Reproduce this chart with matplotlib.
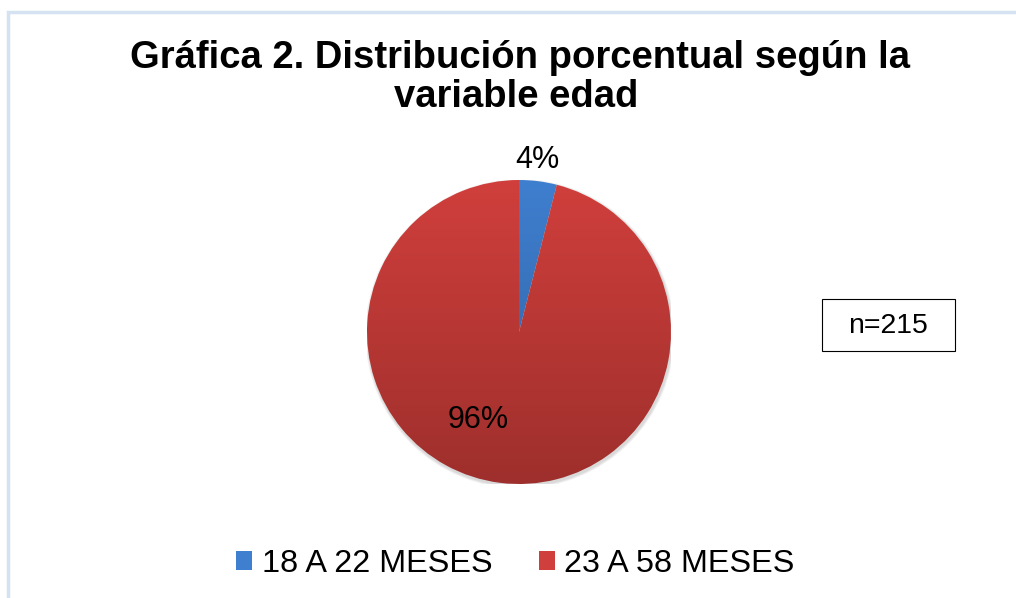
import matplotlib
matplotlib.use("Agg")
import matplotlib.pyplot as plt
import numpy as np
from matplotlib.patches import Rectangle
from matplotlib.colors import LinearSegmentedColormap

categories = ["18 A 22 MESES", "23 A 58 MESES"]
values = [4, 96]
title_lines = ["Gráfica 2. Distribución porcentual según la", "variable edad"]
note = "n=215"

top_colors = ["#3F7FCF", "#D03F3C"]
bot_colors = ["#2E5E9E", "#9E2F2C"]

plt.rcParams['font.family'] = ['Liberation Sans', 'DejaVu Sans']

fig = plt.figure(figsize=(10.16, 5.98), dpi=100)
W, H = 1016, 598

# outer chart border (cropped at right/bottom)
fig.patches.append(Rectangle((8 / W, -0.05), 1.1, (598 - 11.5) / H + 0.05,
                             transform=fig.transFigure, fill=False,
                             edgecolor="#D5E2F2", linewidth=2.5))

cx, cy, r = 519, 598 - 332, 152
ax = fig.add_axes([(cx - r) / W, (cy - r) / H, 2 * r / W, 2 * r / H])
ax.set_aspect("equal")
ax.axis("off")

# faint shadow
for k in range(3):
    ax.add_patch(plt.Circle((0.006, -0.012), 1.0 + 0.006 * (k + 1),
                            color="#000000", alpha=0.05, zorder=0, linewidth=0))

wedges, texts, autotexts = ax.pie(values, startangle=90, counterclock=False,
                                  colors=top_colors, radius=1,
                                  autopct=lambda p: f"{p:.0f}%",
                                  textprops=dict(fontsize=22, color="black"),
                                  wedgeprops=dict(linewidth=0))

grad = np.linspace(1, 0, 256).reshape(-1, 1)
for w, tc, bc in zip(wedges, top_colors, bot_colors):
    cmap = LinearSegmentedColormap.from_list("g", [bc, tc])
    im = ax.imshow(grad, cmap=cmap, extent=[-1, 1, -1, 1], origin="upper",
                   aspect="auto", zorder=1.5, vmin=0, vmax=1)
    im.set_clip_path(w)
    w.set_alpha(0)
ax.set_xlim(-1, 1)
ax.set_ylim(-1, 1)

# label positions
autotexts[0].set_position((0.12, 1.13))
autotexts[1].set_position((-0.27, -0.58))
for t in autotexts:
    t.set_zorder(5)

for line, xc, yb in zip(title_lines, [519.5, 516.5], [68, 107]):
    fig.text(xc / W, 1 - yb / H, line, ha="center", va="baseline",
             fontsize=27.5, fontweight="bold")

# n box
bx0, by0, bx1, by1 = 822, 299, 955, 351
fig.patches.append(Rectangle((bx0 / W, 1 - by1 / H), (bx1 - bx0) / W, (by1 - by0) / H,
                             transform=fig.transFigure, facecolor="white",
                             edgecolor="black", linewidth=0.8))
fig.text((bx0 + bx1) / 2 / W, 1 - 326 / H, note, ha="center", va="center", fontsize=20.5)

handles = [Rectangle((0, 0), 1, 1, facecolor=c) for c in [top_colors[0], top_colors[1]]]
fig.legend(handles, categories, loc="center", bbox_to_anchor=(515.5 / W, 1 - 564 / H),
           ncol=2, frameon=False, fontsize=23.3, handlelength=0.5, handleheight=0.5,
           handletextpad=0.3, columnspacing=1.42, borderpad=0, borderaxespad=0)

fig.savefig("out.png", dpi=100)
